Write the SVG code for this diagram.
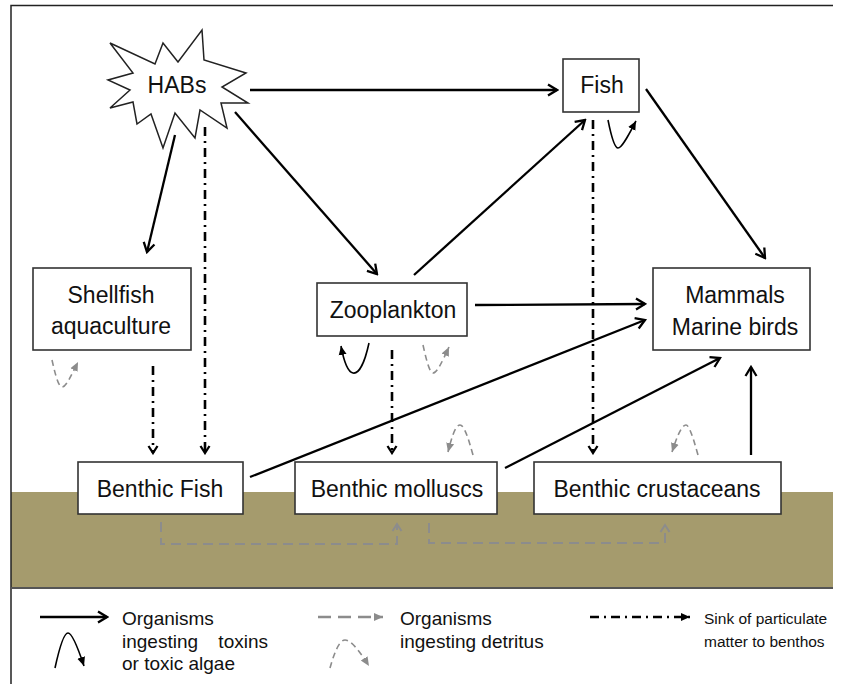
<svg xmlns="http://www.w3.org/2000/svg" width="843" height="684" viewBox="0 0 843 684">
<style>
.box{fill:#fff;stroke:#333;stroke-width:1.6}
.t{font-family:"Liberation Sans",Arial,sans-serif;font-size:23px;fill:#111;text-anchor:middle}
.lg{font-family:"Liberation Sans",Arial,sans-serif;font-size:19px;fill:#111}
.lg2{font-family:"Liberation Sans",Arial,sans-serif;font-size:15.5px;fill:#111}
.solid{fill:none;stroke:#000;stroke-width:2.3;marker-end:url(#av)}
.dd{fill:none;stroke:#000;stroke-width:2.6;stroke-dasharray:9 5 2 5;marker-end:url(#dv)}
.gd{fill:none;stroke:#8c8c8c;stroke-width:2;stroke-dasharray:10 6;marker-end:url(#gv)}
.cb{fill:none;stroke:#000;stroke-width:1.6;marker-end:url(#cb)}
.cg{fill:none;stroke:#8c8c8c;stroke-width:1.6;stroke-dasharray:6 4;marker-end:url(#cg)}
</style>
<defs>
<marker id="av" markerUnits="userSpaceOnUse" viewBox="0 0 14 14" refX="12" refY="7" markerWidth="14" markerHeight="14" orient="auto"><path d="M3,1.5 L12,7 L3,12.5" fill="none" stroke="#000" stroke-width="2.3"/></marker>
<marker id="dv" markerUnits="userSpaceOnUse" viewBox="0 0 12 12" refX="10" refY="6" markerWidth="12" markerHeight="12" orient="auto"><path d="M3,1.5 L10,6 L3,10.5" fill="none" stroke="#000" stroke-width="2.3"/></marker>
<marker id="gv" markerUnits="userSpaceOnUse" viewBox="0 0 12 12" refX="10" refY="6" markerWidth="12" markerHeight="12" orient="auto"><path d="M3,1.5 L10,6 L3,10.5" fill="none" stroke="#8c8c8c" stroke-width="2"/></marker>
<marker id="cb" markerUnits="userSpaceOnUse" viewBox="0 0 10 10" refX="9" refY="5" markerWidth="10" markerHeight="10" orient="auto"><path d="M0,1 L9,5 L0,9 Z" fill="#000"/></marker>
<marker id="cg" markerUnits="userSpaceOnUse" viewBox="0 0 10 10" refX="9" refY="5" markerWidth="10" markerHeight="10" orient="auto"><path d="M0,1 L9,5 L0,9 Z" fill="#8c8c8c"/></marker>
</defs>
<rect x="0" y="0" width="843" height="684" fill="#fff"/>
<rect x="11" y="492" width="822" height="96" fill="#a59b6d"/>
<path d="M11,684 V5.5 H833" fill="none" stroke="#222" stroke-width="1.5"/>
<line x1="11" y1="588" x2="833" y2="588" stroke="#555" stroke-width="2"/>

<g id="connectors">
<line class="solid" x1="250" y1="90" x2="557" y2="90"/>
<line class="solid" x1="175" y1="135" x2="147" y2="252"/>
<line class="solid" x1="235" y1="112" x2="377" y2="274"/>
<line class="solid" x1="414" y1="275" x2="585" y2="120"/>
<line class="solid" x1="646" y1="89" x2="765" y2="258"/>
<line class="solid" x1="475" y1="305" x2="645" y2="304"/>
<line class="solid" x1="250" y1="477" x2="645" y2="320"/>
<line class="solid" x1="505" y1="468" x2="720" y2="358"/>
<line class="solid" x1="751" y1="455" x2="751" y2="367"/>
<line class="dd" x1="205" y1="127" x2="205" y2="453"/>
<line class="dd" x1="153" y1="366" x2="153" y2="453"/>
<line class="dd" x1="392" y1="350" x2="392" y2="453"/>
<line class="dd" x1="593" y1="120" x2="593" y2="453"/>
<path class="gd" d="M161,522 V544 H397 V524"/>
<path class="gd" d="M429,523 V543 H665 V525"/>
<path class="cb" d="M369,343 C364,366 358,374 353,373 C348,372 344,362 341,346"/>
<path class="cb" d="M608,120 C612,140 615,148 618,148 C622,148 628,136 636,121"/>
<path class="cg" d="M52,360 C56,378 59,387 62,387 C66,387 71,376 78,362"/>
<path class="cg" d="M423,345 C427,363 430,373 433,373 C437,373 442,362 449,347"/>
<path class="cg" d="M473,455 C468,437 464,425 460,425 C455,425 451,440 448,452"/>
<path class="cg" d="M698,455 C693,437 689,425 686,425 C681,425 676,440 672,452"/>
</g>

<g id="habs">
<polygon points="110,43 155,64 163,43 178,62 202,30 204,60 246,73 222,87 248,103 221,103 227,128 200,110 195,138 175,113 163,148 151,114 137,124 133,102 110,108 130,90 108,80 133,73" fill="#fff" stroke="#222" stroke-width="1.5"/>
<text class="t" x="177" y="93">HABs</text>
</g>
<g id="fish">
<rect class="box" x="563" y="59" width="76" height="53"/>
<text class="t" x="602" y="93">Fish</text>
</g>
<g id="shellfish">
<rect class="box" x="33" y="268" width="158" height="82"/>
<text class="t" x="111" y="303">Shellfish</text>
<text class="t" x="111" y="334">aquaculture</text>
</g>
<g id="zooplankton">
<rect class="box" x="317" y="283" width="150" height="53"/>
<text class="t" x="393" y="318">Zooplankton</text>
</g>
<g id="mammals">
<rect class="box" x="653" y="268" width="157" height="82"/>
<text class="t" x="735" y="303">Mammals</text>
<text class="t" x="735" y="335">Marine birds</text>
</g>
<g id="benthic-fish">
<rect class="box" x="78" y="462" width="165" height="52"/>
<text class="t" x="160" y="497">Benthic Fish</text>
</g>
<g id="benthic-molluscs">
<rect class="box" x="295" y="462" width="202" height="52"/>
<text class="t" x="397" y="497">Benthic molluscs</text>
</g>
<g id="benthic-crustaceans">
<rect class="box" x="534" y="462" width="247" height="52"/>
<text class="t" x="657" y="497">Benthic crustaceans</text>
</g>

<g id="legend">
<line class="solid" x1="40" y1="617" x2="107" y2="617"/>
<path class="cb" d="M55,668 C60,645 64,633 68,633 C72,633 78,648 84,666"/>
<text class="lg" x="122" y="625">Organisms</text>
<text class="lg" x="122" y="648">ingesting</text>
<text class="lg" x="268" y="648" text-anchor="end">toxins</text>
<text class="lg" x="122" y="670">or toxic algae</text>
<line x1="318" y1="617" x2="383" y2="617" stroke="#8c8c8c" stroke-width="2.3" stroke-dasharray="13 7" marker-end="url(#cg)"/>
<path class="cg" d="M330,668 C335,650 340,640 345,640 C352,640 362,655 369,666"/>
<text class="lg" x="400" y="625">Organisms</text>
<text class="lg" x="400" y="648">ingesting detritus</text>
<line x1="590" y1="617" x2="690" y2="617" stroke="#000" stroke-width="2.3" stroke-dasharray="9 5 2 5" marker-end="url(#cb)"/>
<text class="lg2" x="704" y="624">Sink of particulate</text>
<text class="lg2" x="704" y="647">matter to benthos</text>
</g>
</svg>
